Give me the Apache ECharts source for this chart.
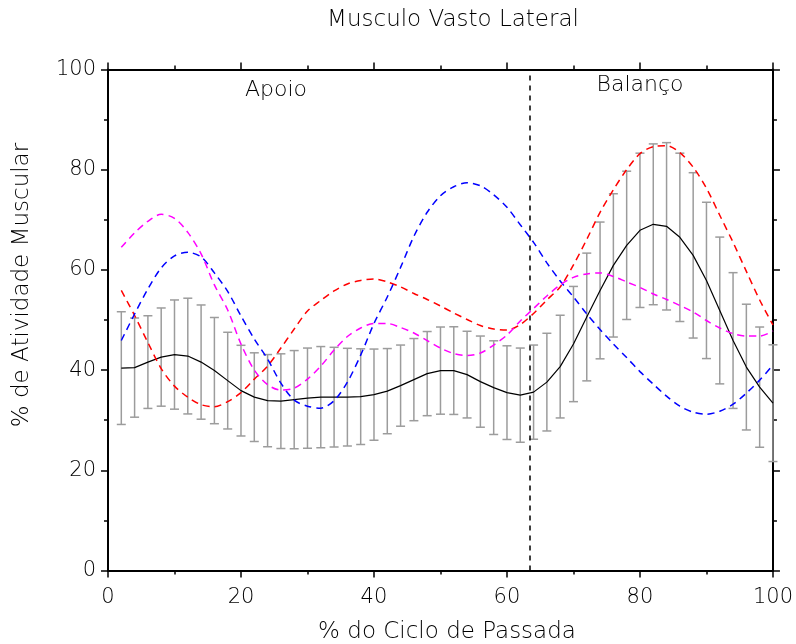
<!DOCTYPE html>
<html><head><meta charset="utf-8">
<script src="https://cdn.jsdelivr.net/npm/echarts@6/dist/echarts.min.js"></script>
<style>html,body{margin:0;padding:0;background:#fff}#c{width:796px;height:644px}</style>
</head><body><div id="c"></div>
<script>
// ---- data ----
const xs = [2,4,6,8,10,12,14,16,18,20,22,24,26,28,30,32,34,36,38,40,42,44,46,48,50,
            52,54,56,58,60,62,64,66,68,70,72,74,76,78,80,82,84,86,88,90,92,94,96,98,100];
const meanVals = [40.4,40.5,41.6,42.6,43.1,42.8,41.6,39.9,37.9,35.9,34.6,33.9,33.8,34.1,34.4,34.6,34.6,34.6,34.7,35.1,
                  35.8,36.9,38.1,39.3,39.9,39.9,39.1,37.7,36.5,35.5,35.0,35.6,37.6,40.7,45.2,50.6,55.9,60.9,64.9,67.9,
                  69.1,68.7,66.5,62.9,57.9,51.9,45.9,40.6,36.6,33.4];
const sdVals = [11.25,9.9,9.25,9.8,10.9,11.55,11.4,10.6,9.65,9.05,8.85,9.2,9.45,9.8,10.0,10.1,9.95,9.75,9.55,9.1,
                8.5,8.1,8.2,8.4,8.7,8.75,8.65,9.1,9.35,9.35,9.4,9.4,9.75,10.25,11.5,12.75,13.65,14.3,14.8,15.4,
                16.05,16.7,16.8,16.5,15.6,14.65,13.55,12.55,12.0,11.65];
const redVals = [55.9,50.9,45.5,40.3,36.8,34.6,33.1,32.7,33.7,35.5,38.2,40.8,44.4,48.2,51.8,53.9,55.8,57.2,57.9,58.2,
                 57.6,56.6,55.3,54.1,52.8,51.4,50.1,48.9,48.2,48.0,49.1,51.3,54.0,56.6,61.0,66.1,71.5,76.0,80.0,83.2,
                 84.6,84.8,83.4,80.5,76.3,70.9,65.5,59.7,54.0,49.0];
const blueVals = [45.9,51.2,56.2,60.4,62.8,63.5,62.6,59.4,55.7,50.8,46.2,42.2,37.4,34.0,32.8,32.4,33.9,37.6,43.0,49.3,
                  54.6,60.5,66.7,71.5,74.8,76.6,77.4,76.8,75.0,72.5,69.0,65.5,61.4,57.8,54.6,51.2,48.1,45.2,42.5,39.7,
                  37.2,34.8,32.8,31.6,31.2,31.8,33.2,35.4,38.0,41.0];
const magentaVals = [64.5,67.4,69.7,71.1,70.3,67.5,63.2,57.0,52.0,45.2,40.0,37.1,36.0,36.4,38.2,40.8,44.0,46.7,48.4,49.3,
                     49.3,48.5,47.4,45.9,44.4,43.3,42.9,43.4,45.0,47.0,49.8,52.3,54.8,57.0,58.5,59.2,59.4,58.7,57.6,56.5,
                     55.2,54.1,52.9,51.6,49.9,48.4,47.3,46.8,46.8,47.8];
const phaseSplit = 63.5;
const phaseLabels = ['Apoio', 'Balanço'];
const titleText = 'Musculo Vasto Lateral';
const xName = '% do Ciclo de Passada';
const yName = '% de Atividade Muscular';

// ---- chart ----
const FONT = '"DejaVu Sans"';
const FW = 200;
const TXT = '#000';
const chart = echarts.init(document.getElementById('c'), null, {renderer:'canvas'});
const pair = (arr) => xs.map((x,i)=>[x, arr[i]]);
const dashed = (color, arr) => ({
  type:'line', data: pair(arr), showSymbol:false, symbol:'none', smooth:0.3,
  lineStyle:{color, width:1.5, type:[7,5]}, z:3, silent:true
});
const axisCommon = {
  type:'value', min:0, max:100, interval:20,
  axisLine:{show:true, onZero:false, lineStyle:{color:'#000', width:2}},
  axisTick:{show:true, inside:false, length:7, lineStyle:{color:'#000', width:1.5}},
  minorTick:{show:true, splitNumber:2, length:4, lineStyle:{color:'#000', width:1.5}},
  splitLine:{show:false}, minorSplitLine:{show:false}
};
chart.setOption({
  animation:false,
  backgroundColor:'#fff',
  grid:{left:108, right:22, top:69.5, bottom:73.5, containLabel:false},
  xAxis:[
    Object.assign({}, axisCommon, {position:'bottom',
      axisLabel:{show:true, margin:17, fontSize:21, fontFamily:FONT, fontWeight:FW, color:TXT}}),
    Object.assign({}, axisCommon, {position:'top', axisLabel:{show:false}})
  ],
  yAxis:[
    Object.assign({}, axisCommon, {position:'left',
      axisLabel:{show:true, margin:12, fontSize:21, fontFamily:FONT, fontWeight:FW, color:TXT}}),
    Object.assign({}, axisCommon, {position:'right', axisLabel:{show:false}})
  ],
  graphic:[
    {type:'text', x:453, y:20, style:{text:titleText, font:FW+' 23px '+FONT, fill:TXT, textAlign:'center', textVerticalAlign:'middle'}},
    {type:'text', x:447, y:632, style:{text:xName, font:FW+' 23px '+FONT, fill:TXT, textAlign:'center', textVerticalAlign:'middle'}},
    {type:'text', x:22, y:285, rotation:Math.PI/2, style:{text:yName, font:FW+' 23px '+FONT, fill:TXT, textAlign:'center', textVerticalAlign:'middle'}},
    {type:'text', x:276, y:90, style:{text:phaseLabels[0], font:FW+' 22px '+FONT, fill:TXT, textAlign:'center', textVerticalAlign:'middle'}},
    {type:'text', x:640, y:85, style:{text:phaseLabels[1], font:FW+' 22px '+FONT, fill:TXT, textAlign:'center', textVerticalAlign:'middle'}}
  ],
  series:[
    {
      type:'custom', z:1, silent:true,
      data: xs.map((x,i)=>[x, meanVals[i]-sdVals[i], meanVals[i]+sdVals[i]]),
      encode:{x:0, y:[1,2]},
      renderItem(params, api){
        const x = api.value(0);
        const p1 = api.coord([x, api.value(1)]);
        const p2 = api.coord([x, api.value(2)]);
        const cw = 4.5;
        const style = {stroke:'#9c9c9c', lineWidth:1.5, fill:null};
        return {type:'group', children:[
          {type:'line', shape:{x1:p1[0], y1:p1[1], x2:p2[0], y2:p2[1]}, style},
          {type:'line', shape:{x1:p1[0]-cw, y1:p1[1], x2:p1[0]+cw, y2:p1[1]}, style},
          {type:'line', shape:{x1:p2[0]-cw, y1:p2[1], x2:p2[0]+cw, y2:p2[1]}, style}
        ]};
      }
    },
    {
      type:'line', data: pair(meanVals), showSymbol:false, symbol:'none', z:2, silent:true,
      lineStyle:{color:'#000', width:1.2},
      markLine:{silent:true, symbol:['none','none'], label:{show:false},
        lineStyle:{color:'#000', width:1.5, type:[5,5]},
        data:[{xAxis:phaseSplit}]}
    },
    dashed('#ff0000', redVals),
    dashed('#0000ff', blueVals),
    dashed('#ff00ff', magentaVals)
  ]
});
</script>
</body></html>
